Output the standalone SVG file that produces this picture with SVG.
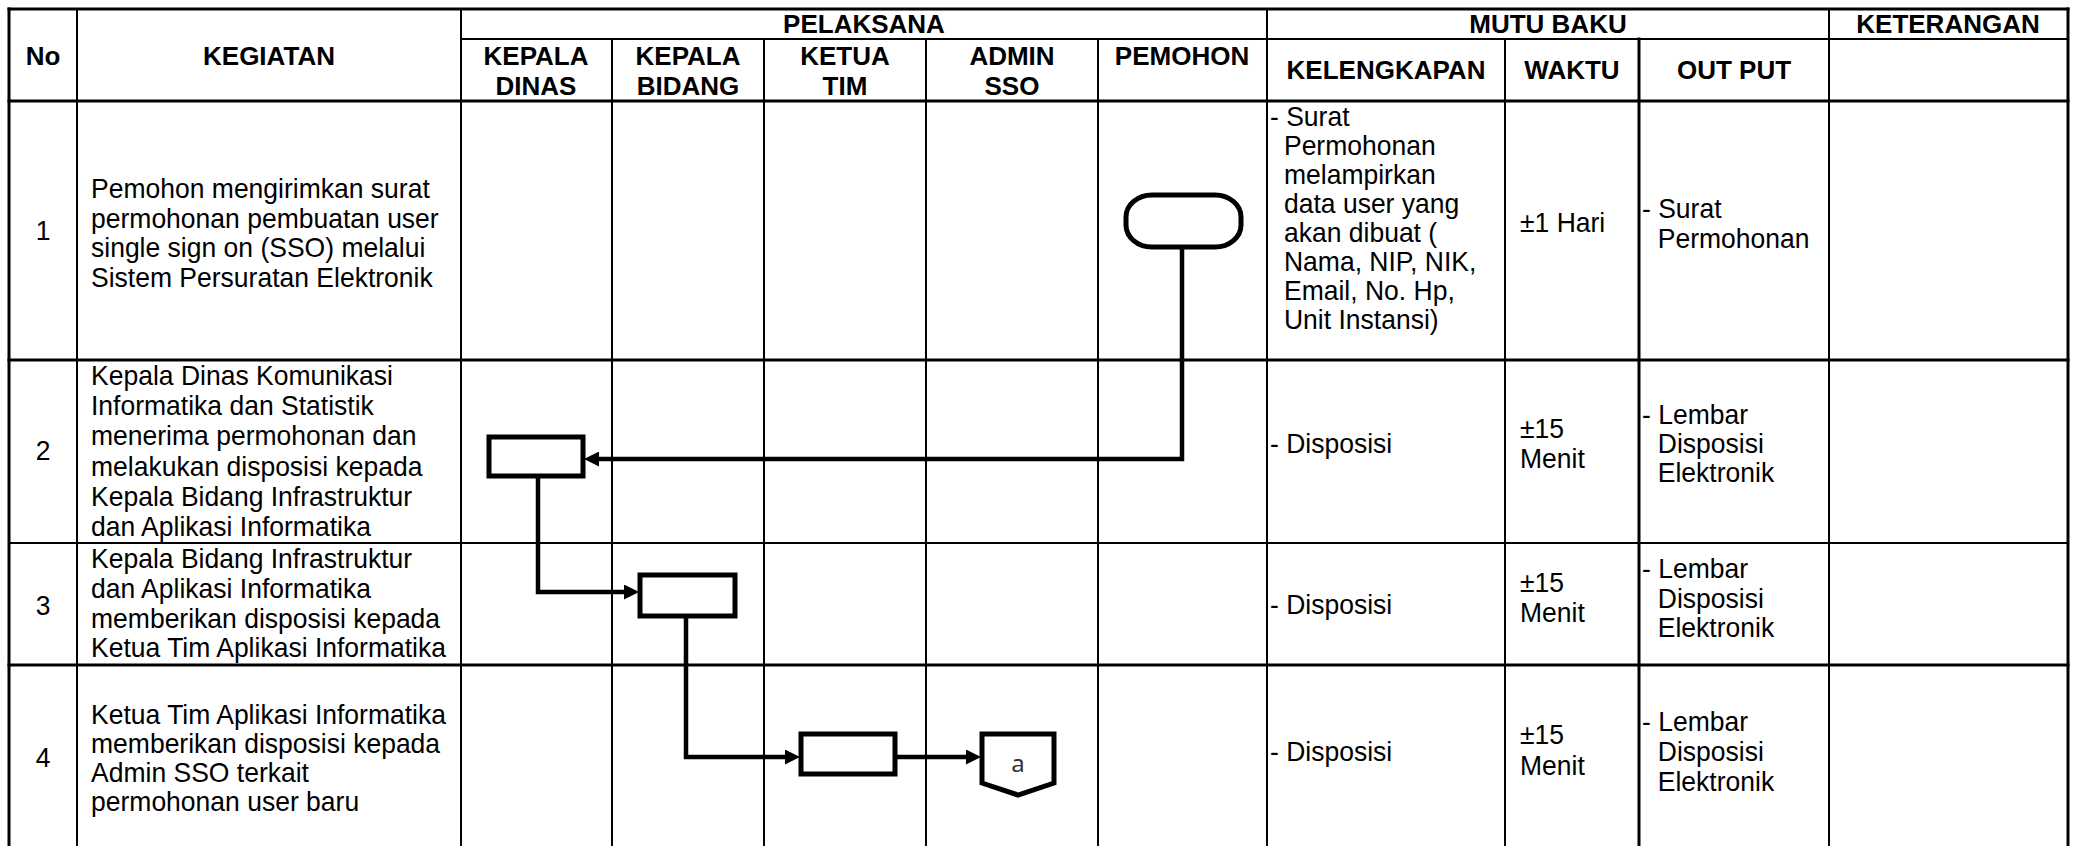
<svg xmlns="http://www.w3.org/2000/svg" width="2078" height="846" viewBox="0 0 2078 846">
  <style>
    .bg { fill: #ffffff; }
    .grid { stroke: #000; fill: none; stroke-linecap: square; }
    .g2 { stroke-width: 2; }
    .g3 { stroke-width: 3; }
    .h { font-family: "Liberation Sans", Arial, sans-serif; font-weight: bold; font-size: 26px; fill: #000; text-anchor: middle; }
    .t { font-family: "Liberation Sans", Arial, sans-serif; font-size: 28.5px; fill: #000; }
    .c { text-anchor: middle; }
    .shape { fill: #fff; stroke: #000; stroke-width: 5; stroke-linejoin: miter; }
    .flow { fill: none; stroke: #000; stroke-width: 4.5; stroke-linejoin: miter; marker-end: url(#arrow); }
    .lbl { font-family: "Noto Sans", "Open Sans", sans-serif; font-size: 24px; fill: #333; text-anchor: middle; }
  </style>
  <defs>
    <marker id="arrow" markerUnits="userSpaceOnUse" markerWidth="15" markerHeight="15" refX="4" refY="7.5" orient="auto">
      <path d="M0,0 L15,7.5 L0,15 Z" fill="#000"/>
    </marker>
  </defs>

  <rect class="bg" x="0" y="0" width="2078" height="846"/>

  <!-- table grid -->
  <g id="table-grid">
    <line class="grid g3" x1="9" y1="9" x2="2068" y2="9"/>
    <line class="grid g3" x1="9" y1="9" x2="9" y2="846"/>
    <line class="grid g3" x1="2068" y1="9" x2="2068" y2="846"/>
    <line class="grid g2" x1="461" y1="39" x2="2068" y2="39"/>
    <line class="grid g3" x1="9" y1="101" x2="2068" y2="101"/>
    <line class="grid g3" x1="9" y1="360" x2="2068" y2="360"/>
    <line class="grid g2" x1="9" y1="543" x2="2068" y2="543"/>
    <line class="grid g3" x1="9" y1="665" x2="2068" y2="665"/>
    <!-- full-height column dividers -->
    <line class="grid g2" x1="77" y1="9" x2="77" y2="846"/>
    <line class="grid g2" x1="461" y1="9" x2="461" y2="846"/>
    <line class="grid g2" x1="1267" y1="9" x2="1267" y2="846"/>
    <line class="grid g2" x1="1829" y1="9" x2="1829" y2="846"/>
    <!-- sub-column dividers -->
    <line class="grid g2" x1="612" y1="39" x2="612" y2="846"/>
    <line class="grid g2" x1="764" y1="39" x2="764" y2="846"/>
    <line class="grid g2" x1="926" y1="39" x2="926" y2="846"/>
    <line class="grid g2" x1="1098" y1="39" x2="1098" y2="846"/>
    <line class="grid g2" x1="1505" y1="39" x2="1505" y2="846"/>
    <line class="grid g3" x1="1639" y1="39" x2="1639" y2="846"/>
  </g>

  <!-- column headings -->
  <g id="header">
    <text class="h" x="43" y="65">No</text>
    <text class="h" x="269" y="65">KEGIATAN</text>
    <text class="h" x="864" y="33">PELAKSANA</text>
    <text class="h" x="1548" y="33">MUTU BAKU</text>
    <text class="h" x="1948" y="33">KETERANGAN</text>
    <text class="h" x="536" y="65">KEPALA<tspan x="536" y="95">DINAS</tspan></text>
    <text class="h" x="688" y="65">KEPALA<tspan x="688" y="95">BIDANG</tspan></text>
    <text class="h" x="845" y="65">KETUA<tspan x="845" y="95">TIM</tspan></text>
    <text class="h" x="1012" y="65">ADMIN<tspan x="1012" y="95">SSO</tspan></text>
    <text class="h" x="1182" y="65">PEMOHON</text>
    <text class="h" x="1386" y="79">KELENGKAPAN</text>
    <text class="h" x="1572" y="79">WAKTU</text>
    <text class="h" x="1734" y="79">OUT PUT</text>
  </g>

  <!-- body text is set slightly condensed: scale(0.93 1) about each column's left edge -->
  <!-- row 1 -->
  <g id="row-1">
    <text class="t c" transform="translate(43 0) scale(0.93 1)" x="0" y="240">1</text>
    <text class="t" transform="translate(91 0) scale(0.93 1)"><tspan x="0" y="198">Pemohon mengirimkan surat</tspan><tspan x="0" y="228">permohonan pembuatan user</tspan><tspan x="0" y="257">single sign on (SSO) melalui</tspan><tspan x="0" y="287">Sistem Persuratan Elektronik</tspan></text>
    <text class="t" transform="translate(1270 0) scale(0.93 1)"><tspan x="0" y="126">- Surat</tspan><tspan x="15" y="155">Permohonan</tspan><tspan x="15" y="184">melampirkan</tspan><tspan x="15" y="213">data user yang</tspan><tspan x="15" y="242">akan dibuat (</tspan><tspan x="15" y="271">Nama, NIP, NIK,</tspan><tspan x="15" y="300">Email, No. Hp,</tspan><tspan x="15" y="329">Unit Instansi)</tspan></text>
    <text class="t" transform="translate(1520 0) scale(0.93 1)" x="0" y="232">±1 Hari</text>
    <text class="t" transform="translate(1642 0) scale(0.93 1)"><tspan x="0" y="218">- Surat</tspan><tspan x="17" y="248">Permohonan</tspan></text>
  </g>

  <!-- row 2 -->
  <g id="row-2">
    <text class="t c" transform="translate(43 0) scale(0.93 1)" x="0" y="460">2</text>
    <text class="t" transform="translate(91 0) scale(0.93 1)"><tspan x="0" y="385">Kepala Dinas Komunikasi</tspan><tspan x="0" y="415">Informatika dan Statistik</tspan><tspan x="0" y="445">menerima permohonan dan</tspan><tspan x="0" y="476">melakukan disposisi kepada</tspan><tspan x="0" y="506">Kepala Bidang Infrastruktur</tspan><tspan x="0" y="536">dan Aplikasi Informatika</tspan></text>
    <text class="t" transform="translate(1270 0) scale(0.93 1)" x="0" y="453">- Disposisi</text>
    <text class="t" transform="translate(1520 0) scale(0.93 1)"><tspan x="0" y="438">±15</tspan><tspan x="0" y="468">Menit</tspan></text>
    <text class="t" transform="translate(1642 0) scale(0.93 1)"><tspan x="0" y="424">- Lembar</tspan><tspan x="17" y="453">Disposisi</tspan><tspan x="17" y="482">Elektronik</tspan></text>
  </g>

  <!-- row 3 -->
  <g id="row-3">
    <text class="t c" transform="translate(43 0) scale(0.93 1)" x="0" y="615">3</text>
    <text class="t" transform="translate(91 0) scale(0.93 1)"><tspan x="0" y="568">Kepala Bidang Infrastruktur</tspan><tspan x="0" y="598">dan Aplikasi Informatika</tspan><tspan x="0" y="628">memberikan disposisi kepada</tspan><tspan x="0" y="657">Ketua Tim Aplikasi Informatika</tspan></text>
    <text class="t" transform="translate(1270 0) scale(0.93 1)" x="0" y="614">- Disposisi</text>
    <text class="t" transform="translate(1520 0) scale(0.93 1)"><tspan x="0" y="592">±15</tspan><tspan x="0" y="622">Menit</tspan></text>
    <text class="t" transform="translate(1642 0) scale(0.93 1)"><tspan x="0" y="578">- Lembar</tspan><tspan x="17" y="608">Disposisi</tspan><tspan x="17" y="637">Elektronik</tspan></text>
  </g>

  <!-- row 4 -->
  <g id="row-4">
    <text class="t c" transform="translate(43 0) scale(0.93 1)" x="0" y="767">4</text>
    <text class="t" transform="translate(91 0) scale(0.93 1)"><tspan x="0" y="724">Ketua Tim Aplikasi Informatika</tspan><tspan x="0" y="753">memberikan disposisi kepada</tspan><tspan x="0" y="782">Admin SSO terkait</tspan><tspan x="0" y="811">permohonan user baru</tspan></text>
    <text class="t" transform="translate(1270 0) scale(0.93 1)" x="0" y="761">- Disposisi</text>
    <text class="t" transform="translate(1520 0) scale(0.93 1)"><tspan x="0" y="744">±15</tspan><tspan x="0" y="775">Menit</tspan></text>
    <text class="t" transform="translate(1642 0) scale(0.93 1)"><tspan x="0" y="731">- Lembar</tspan><tspan x="17" y="761">Disposisi</tspan><tspan x="17" y="791">Elektronik</tspan></text>
  </g>

  <!-- flow connectors -->
  <g id="connectors">
    <path class="flow" d="M1182 247 V459 H595"/>
    <path class="flow" d="M538 478 V592 H628"/>
    <path class="flow" d="M686 618 V757 H789"/>
    <path class="flow" d="M897 757 H970"/>
  </g>

  <!-- flow symbols -->
  <g id="start-pemohon">
    <rect class="shape" x="1126" y="195" width="115" height="52" rx="26" ry="22"/>
  </g>
  <g id="proses-kepala-dinas">
    <rect class="shape" x="489" y="437" width="94" height="39"/>
  </g>
  <g id="proses-kepala-bidang">
    <rect class="shape" x="640" y="575" width="95" height="41"/>
  </g>
  <g id="proses-ketua-tim">
    <rect class="shape" x="801" y="734" width="94" height="40"/>
  </g>
  <g id="offpage-a">
    <path class="shape" d="M982 734 H1054 V783 L1018 795 L982 783 Z"/>
    <text class="lbl" x="1018" y="772">a</text>
  </g>
</svg>
